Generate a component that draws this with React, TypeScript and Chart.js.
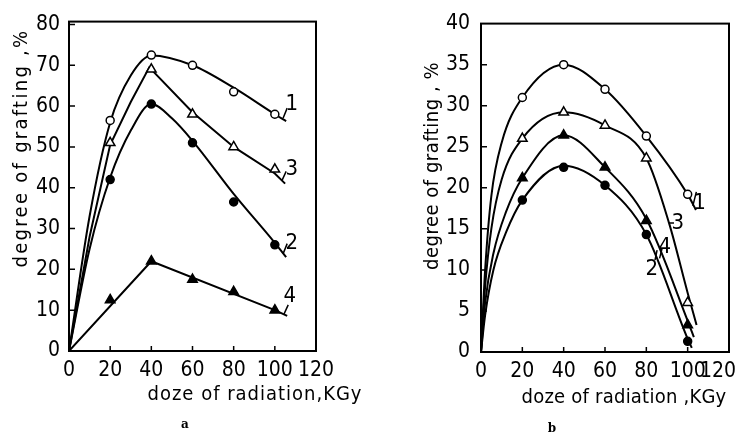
import React, { useEffect, useRef } from "react";
import { Chart, registerables } from "chart.js";
Chart.register(...registerables);

const FONT = '"Liberation Sans Narrow", "DejaVu Sans Condensed", Roboto, sans-serif';

// measured doses (kGy)
const doses = [20, 40, 60, 80, 100];

// ---- panel a : measured points ----
const a1 = [56.5, 72.5, 70, 63.5, 58];
const a2 = [42, 60.5, 51, 36.5, 26];
const a3 = [51, 69, 58, 50, 44.5];
const a4 = [12.5, 22, 17.5, 14.5, 10];

// ---- panel a : drawn curves ----
const a1CurveX = [0, 10, 20, 30, 40, 60, 80, 100, 105.5];
const a1CurveY = [0, 33, 56, 67.5, 72.4, 70, 64.5, 58, 56.3];
const a2CurveX = [0, 10, 20, 30, 40, 50, 60, 80, 100, 105.5];
const a2CurveY = [0, 25, 42.5, 54, 60.5, 57, 51.5, 38.5, 26.5, 23];
const a3CurveX = [0, 10, 20, 30, 39, 60, 80, 100, 105];
const a3CurveY = [0, 28, 50.5, 61, 69.5, 58.5, 50, 43.5, 41];
const a4CurveX = [0, 40, 100, 106];
const a4CurveY = [0, 22, 10, 8.6];

// ---- panel b : measured points ----
const b1 = [31, 35, 32, 26.3, 19.2];
const b2 = [18.5, 22.5, 20.3, 14.3, 1.3];
const b3 = [26, 29.2, 27.6, 23.6, 6];
const b4 = [21.2, 26.4, 22.5, 16, 3.3];

// ---- panel b : drawn curves ----
const b1CurveX = [0, 2, 5, 10, 20, 40, 60, 80, 100, 104];
const b1CurveY = [0, 10, 19, 25.5, 31, 35, 32, 26.3, 19.2, 17.3];
const b3CurveX = [0, 2, 5, 10, 20, 40, 60, 80, 91, 100, 104.3];
const b3CurveY = [0, 8, 15, 21, 26, 29.2, 27.6, 23.6, 15.7, 7.2, 3.3];
const b4CurveX = [0, 2, 6, 12, 20, 40, 60, 80, 100, 103];
const b4CurveY = [0, 6, 12, 17, 21.2, 26.4, 22.5, 16.2, 3.8, 1.8];
const b2CurveX = [0, 2, 6, 12, 20, 40, 60, 80, 100, 102];
const b2CurveY = [0, 4.5, 10, 14.5, 18.5, 22.7, 20.3, 14.3, 1.6, 0.5];

// curve labels [text, x, y] and leader strokes [x1, y1, x2, y2] (data units)
const aLabels: [string, number, number][] = [["1", 108.3, 60.5], ["3", 108.3, 44.4], ["2", 108.3, 26.3], ["4", 107.3, 13.5]];
const aLeaders: number[][] = [[104, 57, 106, 59.5], [103.5, 41.8, 105.5, 44], [104, 23.8, 106, 26.3], [104.5, 9.1, 106.5, 11.3]];
const bLabels: [string, number, number][] = [["1", 105.8, 18.1], ["3", 95.2, 15.7], ["4", 88.9, 12.8], ["2", 82.6, 10.1]];
const bLeaders: number[][] = [[102.5, 17.8, 104.2, 19.5], [91, 15.7, 93.4, 15.7], [86.4, 11.4, 87.6, 12.6], [84.2, 11.2, 85.2, 12.4]];

const TICK_SIZE = 21;

const pts = (xs: number[], ys: number[]) => xs.map((x, i) => ({ x, y: ys[i] }));

function markerSet(ys: number[], style: string, filled: boolean) {
  const isTri = style === "triangle";
  return {
    type: "scatter" as const,
    data: pts(doses, ys),
    pointStyle: style,
    pointRadius: isTri ? 5.5 : 4,
    pointBackgroundColor: filled ? "#000" : "#fff",
    pointBorderColor: "#000",
    pointBorderWidth: 1.5,
    showLine: false,
    order: 0,
  };
}

function curveSet(xs: number[], ys: number[], mode: "mono" | "straight") {
  return {
    type: "line" as const,
    data: pts(xs, ys),
    borderColor: "#000",
    borderWidth: 2,
    pointRadius: 0,
    fill: false,
    tension: mode === "mono" ? 0.4 : 0,
    cubicInterpolationMode: mode === "mono" ? ("monotone" as const) : ("default" as const),
    order: 1,
  };
}

function fitText(ctx: CanvasRenderingContext2D, text: string, x: number, y: number, w: number, rot: boolean, font: string) {
  ctx.save();
  ctx.translate(x, y);
  if (rot) ctx.rotate(-Math.PI / 2);
  ctx.font = font;
  (ctx as any).letterSpacing = "0px";
  const m = ctx.measureText(text).width;
  const ls = (w - m) / text.length;
  (ctx as any).letterSpacing = ls + "px";
  ctx.textAlign = "left";
  ctx.textBaseline = "middle";
  ctx.fillStyle = "#000";
  ctx.fillText(text, -w / 2, 0);
  ctx.restore();
}

const decor = {
  id: "decor",
  afterDatasetsDraw(chart: any, _args: any, opts: any) {
    const { ctx, chartArea: ca, scales } = chart;
    const xs = scales.x, ys = scales.y;
    ctx.save();
    ctx.strokeStyle = "#000";
    ctx.lineWidth = 2;
    ctx.strokeRect(ca.left, ca.top, ca.right - ca.left, ca.bottom - ca.top);
    ctx.lineWidth = 1.5;
    ctx.beginPath();
    xs.ticks.forEach((t: any) => {
      if (t.value > xs.min && t.value < xs.max) {
        const px = xs.getPixelForValue(t.value);
        ctx.moveTo(px, ca.bottom);
        ctx.lineTo(px, ca.bottom - 5);
      }
    });
    ys.ticks.forEach((t: any) => {
      if (t.value > ys.min && t.value < ys.max) {
        const py = ys.getPixelForValue(t.value);
        ctx.moveTo(ca.left, py);
        ctx.lineTo(ca.left + 6, py);
      }
    });
    ctx.stroke();
    // leaders
    ctx.beginPath();
    (opts.leaders || []).forEach((l: number[]) => {
      ctx.moveTo(xs.getPixelForValue(l[0]), ys.getPixelForValue(l[1]));
      ctx.lineTo(xs.getPixelForValue(l[2]), ys.getPixelForValue(l[3]));
    });
    ctx.stroke();
    ctx.fillStyle = "#000";
    ctx.font = `22px ${FONT}`;
    ctx.textAlign = "center";
    ctx.textBaseline = "middle";
    (opts.labels || []).forEach((l: [string, number, number]) => {
      ctx.fillText(l[0], xs.getPixelForValue(l[1]), ys.getPixelForValue(l[2]));
    });
    // last x tick label kept inside the page (right-aligned near its tick)
    if (opts.lastTickInside) {
      ctx.font = `${TICK_SIZE}px ${FONT}`;
      ctx.textAlign = "right";
      ctx.textBaseline = "middle";
      ctx.fillText(String(xs.max), xs.getPixelForValue(xs.max) + 7, ca.bottom + opts.xPad + (TICK_SIZE * 1.2) / 2);
    }
    ctx.restore();
    const tf = `20px ${FONT}`;
    fitText(ctx, opts.yTitle.text, opts.yTitle.x, opts.yTitle.y, opts.yTitle.w, true, tf);
    fitText(ctx, opts.xTitle.text, opts.xTitle.x, opts.xTitle.y, opts.xTitle.w, false, tf);
    ctx.save();
    ctx.font = 'bold 12px "DejaVu Serif", serif';
    ctx.textAlign = "center";
    ctx.textBaseline = "middle";
    ctx.fillStyle = "#000";
    ctx.fillText(opts.caption.text, opts.caption.x, opts.caption.y);
    ctx.restore();
  },
};

type PanelProps = {
  width: number;
  left: number;
  datasets: any[];
  yMax: number;
  yStep: number;
  area: { left: number; right: number; top: number; bottom: number };
  yPad: number;
  decorOpts: any;
};

const X_PAD = 7;

function Panel(p: PanelProps) {
  const ref = useRef<HTMLCanvasElement>(null);
  useEffect(() => {
    if (!ref.current) return;
    const tickFont = { family: FONT, size: TICK_SIZE };
    const chart = new Chart(ref.current, {
      type: "scatter",
      data: { datasets: p.datasets },
      plugins: [decor],
      options: {
        responsive: false,
        animation: false,
        events: [],
        layout: { autoPadding: false, padding: { left: 0, top: p.area.top, right: p.width - p.area.right, bottom: 0 } },
        plugins: { legend: { display: false }, tooltip: { enabled: false }, decor: { ...p.decorOpts, xPad: X_PAD } } as any,
        scales: {
          x: {
            type: "linear",
            min: 0,
            max: 120,
            grid: { display: false, drawTicks: false },
            border: { display: false },
            ticks: {
              stepSize: 20,
              padding: X_PAD,
              font: tickFont,
              color: "#000",
              maxRotation: 0,
              autoSkip: false,
              callback: (v: number) => (p.decorOpts.lastTickInside && v === 120 ? "" : String(v)),
            },
            afterFit: (s: any) => { s.height = 436 - p.area.bottom; },
          },
          y: {
            type: "linear",
            min: 0,
            max: p.yMax,
            grid: { display: false, drawTicks: false },
            border: { display: false },
            ticks: { stepSize: p.yStep, padding: p.yPad, font: tickFont, color: "#000" },
            afterBuildTicks: (s: any) => {
              const out: any[] = [];
              for (let v = 0; v <= s.max + 1e-6; v += p.yStep) out.push({ value: v });
              s.ticks = out;
            },
            afterFit: (s: any) => { s.width = p.area.left; },
          },
        },
      } as any,
    });
    return () => chart.destroy();
  }, []);
  return (
    <canvas
      ref={ref}
      width={p.width}
      height={436}
      style={{ position: "absolute", left: p.left, top: 0, width: p.width, height: 436 }}
    />
  );
}

export default function App() {
  const dsA = [
    markerSet(a1, "circle", false),
    markerSet(a3, "triangle", false),
    markerSet(a2, "circle", true),
    markerSet(a4, "triangle", true),
    curveSet(a1CurveX, a1CurveY, "mono"),
    curveSet(a3CurveX, a3CurveY, "straight"),
    curveSet(a2CurveX, a2CurveY, "mono"),
    curveSet(a4CurveX, a4CurveY, "straight"),
  ];
  const dsB = [
    markerSet(b1, "circle", false),
    markerSet(b3, "triangle", false),
    markerSet(b4, "triangle", true),
    markerSet(b2, "circle", true),
    curveSet(b1CurveX, b1CurveY, "mono"),
    curveSet(b3CurveX, b3CurveY, "mono"),
    curveSet(b4CurveX, b4CurveY, "mono"),
    curveSet(b2CurveX, b2CurveY, "mono"),
  ];
  return (
    <div style={{ position: "fixed", left: 0, top: 0, width: 736, height: 436, background: "#fff", overflow: "hidden" }}>
      <Panel
        width={370}
        left={0}
        datasets={dsA}
        yMax={80.7}
        yStep={10}
        area={{ left: 69, right: 316, top: 18, bottom: 351 }}
        yPad={9}
        decorOpts={{
          labels: aLabels,
          leaders: aLeaders,
          lastTickInside: false,
          yTitle: { text: "degree of grafting ,%", x: 22, y: 148, w: 239 },
          xTitle: { text: "doze of radiation,KGy", x: 255, y: 395, w: 215 },
          caption: { text: "a", x: 185, y: 425 },
        }}
      />
      <Panel
        width={366}
        left={370}
        datasets={dsB}
        yMax={40}
        yStep={5}
        area={{ left: 111, right: 359, top: 21, bottom: 352 }}
        yPad={11}
        decorOpts={{
          labels: bLabels,
          leaders: bLeaders,
          lastTickInside: true,
          yTitle: { text: "degree of grafting , %", x: 63, y: 166, w: 208 },
          xTitle: { text: "doze of radiation ,KGy", x: 254, y: 398, w: 205 },
          caption: { text: "b", x: 182, y: 429 },
        }}
      />
    </div>
  );
}
